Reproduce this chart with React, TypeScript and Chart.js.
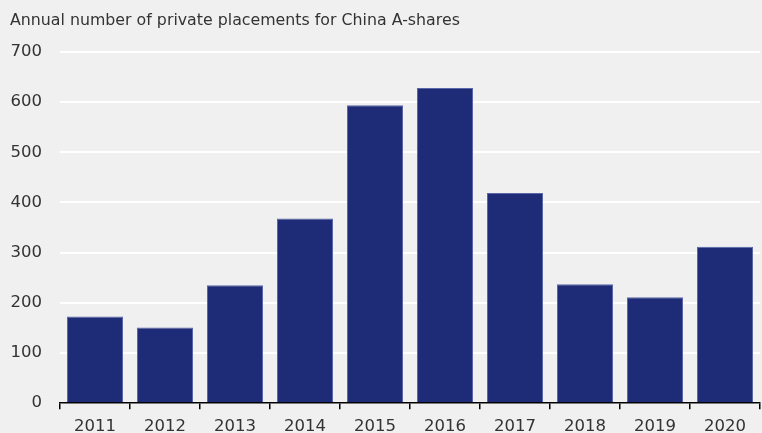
import { useEffect, useRef } from 'react';
import { Chart, registerables } from 'chart.js';

Chart.register(...registerables);

const categories = ['2011', '2012', '2013', '2014', '2015', '2016', '2017', '2018', '2019', '2020'];
const placements = [173, 151, 235, 368, 594, 628, 419, 237, 211, 312];
const yMin = 0;
const yMax = 700;
const yStep = 100;
const titleText = 'Annual number of private placements for China A-shares';

export default function App() {
  const ref = useRef<HTMLCanvasElement>(null);
  useEffect(() => {
    document.body.style.margin = '0';
    const font = { family: 'DejaVu Sans', size: 16.5, weight: 'normal' as const };
    const chart = new Chart(ref.current!, {
      type: 'bar',
      data: {
        labels: categories,
        datasets: [
          {
            data: placements,
            backgroundColor: '#1e2c78',
            borderColor: '#5a66a8',
            borderWidth: 1,
            barPercentage: 0.8,
            categoryPercentage: 1,
          },
        ],
      },
      options: {
        animation: false,
        responsive: false,
        maintainAspectRatio: false,
        layout: { padding: { left: 10, right: 2, top: 0, bottom: 0 } },
        plugins: {
          legend: { display: false },
          tooltip: { enabled: false },
          title: {
            display: true,
            text: titleText,
            align: 'start',
            color: '#333',
            font: { family: 'DejaVu Sans', size: 15.8, weight: 'normal' },
            padding: { top: 11, bottom: 22 },
          },
        },
        scales: {
          x: {
            grid: {
              display: true,
              drawOnChartArea: false,
              drawTicks: true,
              tickLength: 6,
              color: '#000',
              lineWidth: 1.5,
              offset: true,
            },
            border: { color: '#000', width: 1.5 },
            ticks: { color: '#333', font, padding: 8 },
          },
          y: {
            min: yMin,
            max: yMax,
            ticks: { stepSize: yStep, color: '#333', font, padding: 18 },
            grid: {
              color: (c: any) => (c.tick && c.tick.value === 0 ? 'rgba(0,0,0,0)' : '#ffffff'),
              lineWidth: 2,
              drawTicks: false,
            },
            border: { display: false },
            afterFit: (s: any) => {
              s.width = 50;
            },
          },
        },
      },
    });
    return () => chart.destroy();
  }, []);
  return (
    <div style={{ width: 762, height: 433, overflow: 'hidden', background: '#f0f0f0' }}>
      <canvas ref={ref} width={762} height={445} style={{ display: 'block' }} />
    </div>
  );
}
